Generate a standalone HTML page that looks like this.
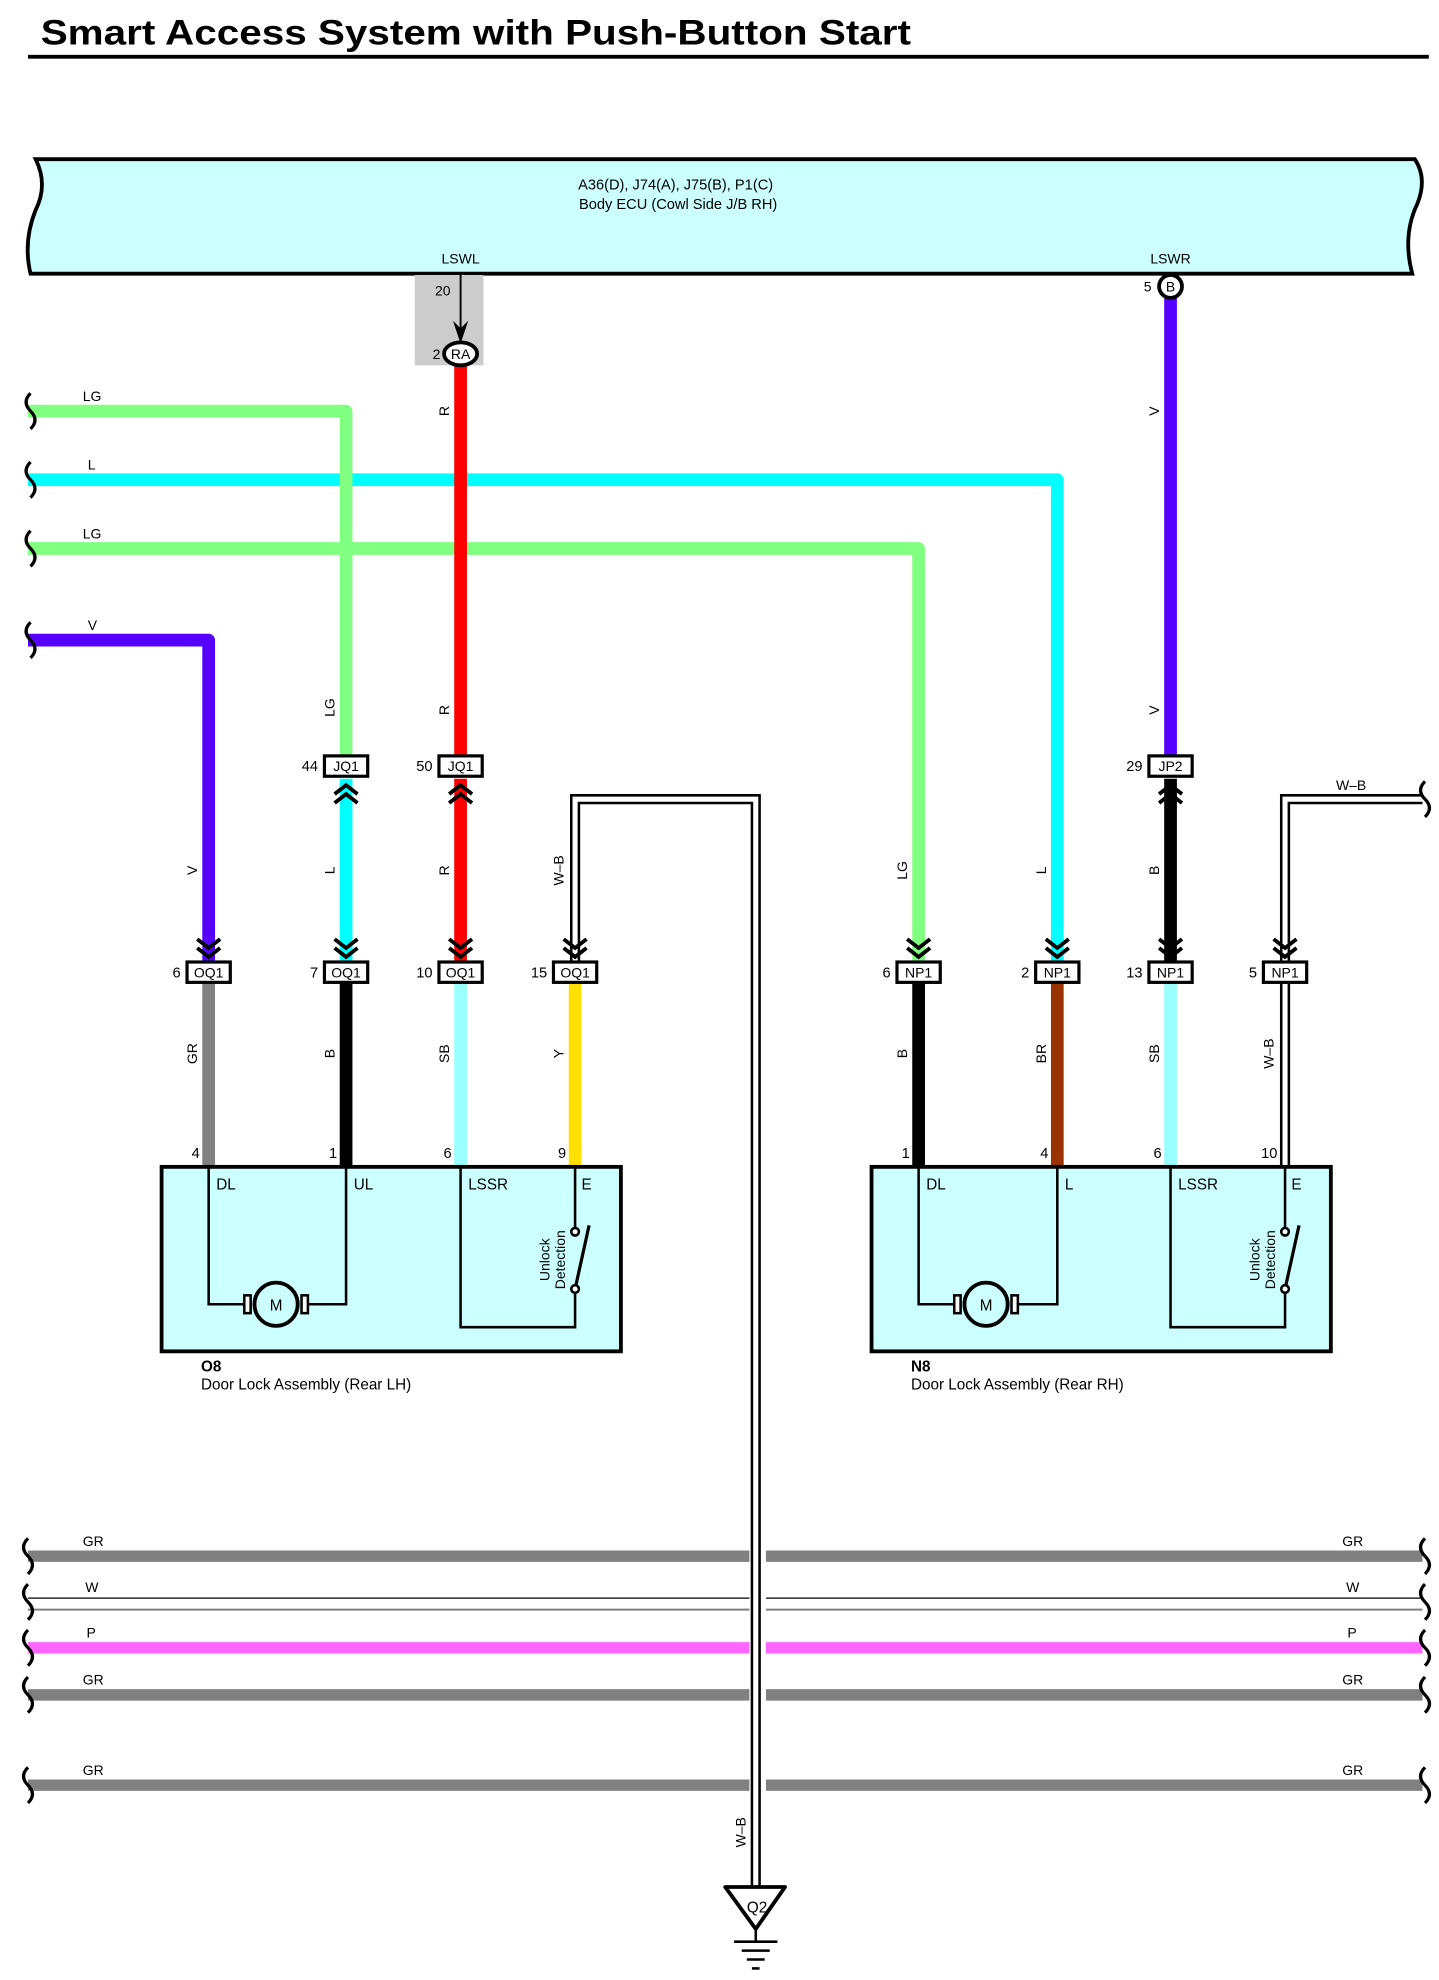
<!DOCTYPE html>
<html><head><meta charset="utf-8"><style>
html,body{margin:0;padding:0;background:#fff;}
svg{display:block;}
text{font-family:"Liberation Sans",Arial,sans-serif;fill:#000;}
.s{font-size:11px;}
.c{font-size:11px;}
</style></head><body>
<svg width="1439" height="1980" viewBox="0 0 1131 1556" xmlns="http://www.w3.org/2000/svg">
<rect width="1131" height="1556" fill="#fff"/>
<text x="32" y="35" font-size="28" font-weight="bold" textLength="684" lengthAdjust="spacingAndGlyphs">Smart Access System with Push-Button Start</text>
<rect x="22" y="43" width="1101" height="3" fill="#000"/>

<!-- ECU -->
<path d="M28,125 L1112,125 Q1122,140 1114,160 Q1102,185 1110,215 L24,215 Q18,190 28,165 Q38,145 28,125 Z" fill="#ccffff" stroke="#000" stroke-width="3"/>
<text x="531" y="149" text-anchor="middle" font-size="11.5">A36(D), J74(A), J75(B), P1(C)</text>
<text x="533" y="164" text-anchor="middle" font-size="11.5">Body ECU (Cowl Side J/B RH)</text>
<text x="362" y="207" text-anchor="middle" class="s">LSWL</text>
<text x="920" y="207" text-anchor="middle" class="s">LSWR</text>
<rect x="326" y="216" width="54" height="71" fill="#cccccc"/>
<line x1="362" y1="216" x2="362" y2="262" stroke="#000" stroke-width="1.5"/>
<path d="M356,252 L362,270 L368,252 L362,258 Z" fill="#000"/>
<text x="348" y="232" text-anchor="middle" class="s">20</text>

<g fill="none" stroke-linecap="butt">
<!-- wires -->
<path d="M22,323 H272 V596" stroke="#80ff80" stroke-width="10" stroke-linejoin="round"/>
<path d="M22,377 H831 V756" stroke="#00ffff" stroke-width="10" stroke-linejoin="round"/>
<path d="M22,431 H722 V756" stroke="#80ff80" stroke-width="10" stroke-linejoin="round"/>
<path d="M272,370 V384 M272,424 V438" stroke="#80ff80" stroke-width="10"/>
<path d="M22,503 H164 V756" stroke="#5500ff" stroke-width="10" stroke-linejoin="round"/>
<path d="M362,287 V596" stroke="#ff0000" stroke-width="10"/>
<path d="M920,234 V596" stroke="#5500ff" stroke-width="10"/>
<path d="M272,612 V756" stroke="#00ffff" stroke-width="10"/>
<path d="M362,612 V756" stroke="#ff0000" stroke-width="10"/>
<path d="M920,612 V756" stroke="#000" stroke-width="10"/>
<!-- lower -->
<path d="M164,772 V917" stroke="#808080" stroke-width="10"/>
<path d="M272,772 V917" stroke="#000" stroke-width="10"/>
<path d="M362,772 V917" stroke="#99ffff" stroke-width="10"/>
<path d="M452,772 V917" stroke="#ffe000" stroke-width="10"/>
<path d="M722,772 V917" stroke="#000" stroke-width="10"/>
<path d="M831,772 V917" stroke="#993300" stroke-width="10"/>
<path d="M920,772 V917" stroke="#99ffff" stroke-width="10"/>

<!-- bus lines -->
<path d="M22,1223 H589 M602,1223 H1118" stroke="#808080" stroke-width="9"/>
<path d="M22,1256 H589 M602,1256 H1118" stroke="#000" stroke-width="1"/>
<path d="M22,1265 H589 M602,1265 H1118" stroke="#808080" stroke-width="1.5"/>
<path d="M22,1295 H589 M602,1295 H1118" stroke="#ff66ff" stroke-width="9"/>
<path d="M22,1332 H589 M602,1332 H1118" stroke="#808080" stroke-width="9"/>
<path d="M22,1403 H589 M602,1403 H1118" stroke="#808080" stroke-width="9"/>

<!-- W-B double wires -->
<path d="M452,756 V628 H594 V1484" stroke="#000" stroke-width="8" stroke-linejoin="miter"/>
<path d="M452,756 V628 H594 V1484" stroke="#fff" stroke-width="4" stroke-linejoin="miter"/>
<path d="M1118,628 H1010 V756" stroke="#000" stroke-width="8"/>
<path d="M1118,628 H1010 V756" stroke="#fff" stroke-width="4"/>
<path d="M1010,772 V917" stroke="#000" stroke-width="8"/>
<path d="M1010,772 V917" stroke="#fff" stroke-width="4"/>

<!-- break marks -->
<g stroke="#000" stroke-width="2.5">
<path d="M24,309 q-7,7 0,14 q7,7 0,14"/>
<path d="M24,363 q-7,7 0,14 q7,7 0,14"/>
<path d="M24,417 q-7,7 0,14 q7,7 0,14"/>
<path d="M24,489 q-7,7 0,14 q7,7 0,14"/>
<path d="M1120,614 q-7,7 0,14 q7,7 0,14"/>
<path d="M22,1209 q-7,7 0,14 q7,7 0,14"/>
<path d="M22,1245 q-7,7 0,14 q7,7 0,14"/>
<path d="M22,1281 q-7,7 0,14 q7,7 0,14"/>
<path d="M22,1318 q-7,7 0,14 q7,7 0,14"/>
<path d="M22,1389 q-7,7 0,14 q7,7 0,14"/>
<path d="M1120,1209 q-7,7 0,14 q7,7 0,14"/>
<path d="M1120,1245 q-7,7 0,14 q7,7 0,14"/>
<path d="M1120,1281 q-7,7 0,14 q7,7 0,14"/>
<path d="M1120,1318 q-7,7 0,14 q7,7 0,14"/>
<path d="M1120,1389 q-7,7 0,14 q7,7 0,14"/>
</g>

<!-- chevrons down -->
<g stroke="#000" stroke-width="3">
<path d="M155,738 l9,7 l9,-7 M155,745 l9,7 l9,-7"/>
<path d="M263,738 l9,7 l9,-7 M263,745 l9,7 l9,-7"/>
<path d="M353,738 l9,7 l9,-7 M353,745 l9,7 l9,-7"/>
<path d="M443,738 l9,7 l9,-7 M443,745 l9,7 l9,-7"/>
<path d="M713,738 l9,7 l9,-7 M713,745 l9,7 l9,-7"/>
<path d="M822,738 l9,7 l9,-7 M822,745 l9,7 l9,-7"/>
<path d="M911,738 l9,7 l9,-7 M911,745 l9,7 l9,-7"/>
<path d="M1001,738 l9,7 l9,-7 M1001,745 l9,7 l9,-7"/>
<!-- chevrons up -->
<path d="M263,624 l9,-7 l9,7 M263,631 l9,-7 l9,7"/>
<path d="M353,624 l9,-7 l9,7 M353,631 l9,-7 l9,7"/>
<path d="M911,624 l9,-7 l9,7 M911,631 l9,-7 l9,7"/>
</g>
</g>

<!-- RA and B connectors -->
<ellipse cx="362" cy="278" rx="13" ry="9" fill="#fff" stroke="#000" stroke-width="3"/>
<text x="362" y="282" text-anchor="middle" class="c">RA</text>
<text x="340" y="282" class="s">2</text>
<circle cx="920" cy="225" r="9" fill="#fff" stroke="#000" stroke-width="3"/>
<text x="920" y="229" text-anchor="middle" class="c">B</text>
<text x="902" y="229" class="s" text-anchor="middle">5</text>

<!-- connector boxes -->
<g fill="#fff" stroke="#000" stroke-width="2.5">
<rect x="255" y="594" width="34" height="16"/>
<rect x="345" y="594" width="34" height="16"/>
<rect x="903" y="594" width="34" height="16"/>
<rect x="147" y="756" width="34" height="16"/>
<rect x="255" y="756" width="34" height="16"/>
<rect x="345" y="756" width="34" height="16"/>
<rect x="435" y="756" width="34" height="16"/>
<rect x="705" y="756" width="34" height="16"/>
<rect x="814" y="756" width="34" height="16"/>
<rect x="903" y="756" width="34" height="16"/>
<rect x="993" y="756" width="34" height="16"/>
</g>
<g class="c" text-anchor="middle" font-size="11">
<text x="272" y="606">JQ1</text>
<text x="362" y="606">JQ1</text>
<text x="920" y="606">JP2</text>
<text x="164" y="768">OQ1</text>
<text x="272" y="768">OQ1</text>
<text x="362" y="768">OQ1</text>
<text x="452" y="768">OQ1</text>
<text x="722" y="768">NP1</text>
<text x="831" y="768">NP1</text>
<text x="920" y="768">NP1</text>
<text x="1010" y="768">NP1</text>
</g>
<g font-size="11.5" text-anchor="end">
<text x="250" y="606">44</text>
<text x="340" y="606">50</text>
<text x="898" y="606">29</text>
<text x="142" y="768">6</text>
<text x="250" y="768">7</text>
<text x="340" y="768">10</text>
<text x="430" y="768">15</text>
<text x="700" y="768">6</text>
<text x="809" y="768">2</text>
<text x="898" y="768">13</text>
<text x="988" y="768">5</text>
<text x="157" y="910">4</text>
<text x="265" y="910">1</text>
<text x="355" y="910">6</text>
<text x="445" y="910">9</text>
<text x="715" y="910">1</text>
<text x="824" y="910">4</text>
<text x="913" y="910">6</text>
<text x="1004" y="910">10</text>
</g>

<!-- horizontal wire labels -->
<g class="s">
<text x="65" y="315">LG</text>
<text x="69" y="369">L</text>
<text x="65" y="423">LG</text>
<text x="69" y="495">V</text>
<text x="1050" y="621">W–B</text>
<text x="65" y="1215">GR</text><text x="1055" y="1215">GR</text>
<text x="67" y="1251">W</text><text x="1058" y="1251">W</text>
<text x="68" y="1287">P</text><text x="1059" y="1287">P</text>
<text x="65" y="1324">GR</text><text x="1055" y="1324">GR</text>
<text x="65" y="1395">GR</text><text x="1055" y="1395">GR</text>
</g>
<!-- vertical wire labels -->
<g class="s" text-anchor="middle">
<text transform="translate(353,323) rotate(-90)">R</text>
<text transform="translate(353,558) rotate(-90)">R</text>
<text transform="translate(353,684) rotate(-90)">R</text>
<text transform="translate(911,323) rotate(-90)">V</text>
<text transform="translate(911,558) rotate(-90)">V</text>
<text transform="translate(911,684) rotate(-90)">B</text>
<text transform="translate(263,556) rotate(-90)">LG</text>
<text transform="translate(263,684) rotate(-90)">L</text>
<text transform="translate(155,684) rotate(-90)">V</text>
<text transform="translate(443,684) rotate(-90)">W–B</text>
<text transform="translate(713,684) rotate(-90)">LG</text>
<text transform="translate(822,684) rotate(-90)">L</text>
<text transform="translate(155,828) rotate(-90)">GR</text>
<text transform="translate(263,828) rotate(-90)">B</text>
<text transform="translate(353,828) rotate(-90)">SB</text>
<text transform="translate(443,828) rotate(-90)">Y</text>
<text transform="translate(713,828) rotate(-90)">B</text>
<text transform="translate(822,828) rotate(-90)">BR</text>
<text transform="translate(911,828) rotate(-90)">SB</text>
<text transform="translate(1001,828) rotate(-90)">W–B</text>
<text transform="translate(586,1440) rotate(-90)">W–B</text>
</g>

<!-- components -->
<g id="c1">
<rect x="127" y="917" width="361" height="145" fill="#ccffff" stroke="#000" stroke-width="3"/>
<g fill="none" stroke="#000" stroke-width="2">
<path d="M164,917 V1025 H196 M238,1025 H272 V917"/>
<path d="M362,917 V1043 H452 V1015"/>
<path d="M452,917 V965"/>
<path d="M452,1013 L463,963" stroke-width="2.5"/>
</g>
<circle cx="452" cy="968" r="3" fill="#fff" stroke="#000" stroke-width="2"/>
<circle cx="452" cy="1013" r="3" fill="#fff" stroke="#000" stroke-width="2"/>
<rect x="192" y="1018" width="5" height="14" fill="#fff" stroke="#000" stroke-width="2"/>
<rect x="237" y="1018" width="5" height="14" fill="#fff" stroke="#000" stroke-width="2"/>
<circle cx="217" cy="1025" r="17" fill="#ccffff" stroke="#000" stroke-width="3"/>
<text x="217" y="1030" text-anchor="middle" font-size="12" fill="#333">M</text>
<text x="170" y="935" font-size="12">DL</text>
<text x="278" y="935" font-size="12">UL</text>
<text x="368" y="935" font-size="12">LSSR</text>
<text x="457" y="935" font-size="12">E</text>
<text transform="translate(432,990) rotate(-90)" text-anchor="middle" font-size="11">Unlock</text>
<text transform="translate(444,990) rotate(-90)" text-anchor="middle" font-size="11">Detection</text>
</g>
<text x="158" y="1078" font-size="12" font-weight="bold">O8</text>
<text x="158" y="1092" font-size="12">Door Lock Assembly (Rear LH)</text>

<g transform="translate(558,0)">
<rect x="127" y="917" width="361" height="145" fill="#ccffff" stroke="#000" stroke-width="3"/>
<g fill="none" stroke="#000" stroke-width="2">
<path d="M164,917 V1025 H196 M238,1025 H273 V917"/>
<path d="M362,917 V1043 H452 V1015"/>
<path d="M452,917 V965"/>
<path d="M452,1013 L463,963" stroke-width="2.5"/>
</g>
<circle cx="452" cy="968" r="3" fill="#fff" stroke="#000" stroke-width="2"/>
<circle cx="452" cy="1013" r="3" fill="#fff" stroke="#000" stroke-width="2"/>
<rect x="192" y="1018" width="5" height="14" fill="#fff" stroke="#000" stroke-width="2"/>
<rect x="237" y="1018" width="5" height="14" fill="#fff" stroke="#000" stroke-width="2"/>
<circle cx="217" cy="1025" r="17" fill="#ccffff" stroke="#000" stroke-width="3"/>
<text x="217" y="1030" text-anchor="middle" font-size="12" fill="#333">M</text>
<text x="170" y="935" font-size="12">DL</text>
<text x="279" y="935" font-size="12">L</text>
<text x="368" y="935" font-size="12">LSSR</text>
<text x="457" y="935" font-size="12">E</text>
<text transform="translate(432,990) rotate(-90)" text-anchor="middle" font-size="11">Unlock</text>
<text transform="translate(444,990) rotate(-90)" text-anchor="middle" font-size="11">Detection</text>
</g>
<text x="716" y="1078" font-size="12" font-weight="bold">N8</text>
<text x="716" y="1092" font-size="12">Door Lock Assembly (Rear RH)</text>

<!-- ground -->
<path d="M570,1483 L617,1483 L594,1516 Z" fill="#fff" stroke="#000" stroke-width="3" stroke-linejoin="round"/>
<text x="595" y="1503" text-anchor="middle" font-size="12">Q2</text>
<g stroke="#000" stroke-width="2">
<line x1="594" y1="1516" x2="594" y2="1526"/>
<line x1="577" y1="1526" x2="611" y2="1526"/>
<line x1="583" y1="1533" x2="605" y2="1533"/>
<line x1="587" y1="1540" x2="601" y2="1540"/>
<line x1="591" y1="1547" x2="597" y2="1547"/>
</g>
</svg>
</body></html>
